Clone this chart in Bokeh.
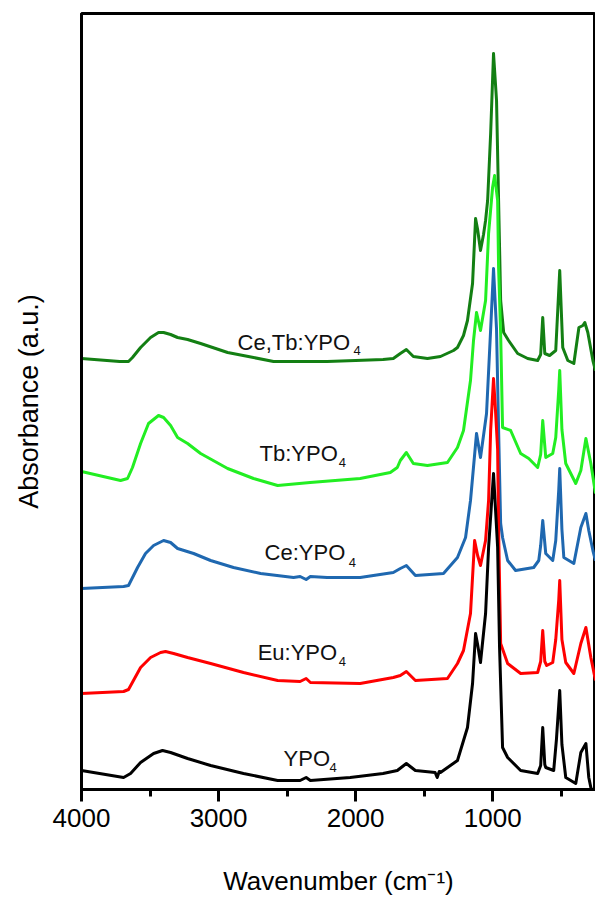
from bokeh.plotting import figure
from bokeh.models import Range1d, SingleIntervalTicker, FixedTicker, ColumnDataSource
from bokeh.embed import file_html
from bokeh.resources import INLINE
from bokeh.core.properties import value

# ---------------- data (wavenumber in cm-1, absorbance in a.u., stacked) ----------------
cetb_wn = [4000, 3722, 3657, 3628, 3569, 3496, 3438, 3401, 3350, 3299, 3226, 3131, 2934, 2745, 2599,
           2400, 2208, 2000, 1800, 1725, 1674, 1630, 1579, 1476, 1381, 1286, 1257, 1213, 1184, 1147,
           1125, 1110, 1089, 1067, 1052, 1037, 1015, 994, 972, 957, 942, 920, 884, 818, 745,
           672, 650, 635, 620, 585, 540, 511, 489, 452, 408, 371, 342, 328, 306, 269, 250]
cetb_ab = [431, 428, 428, 432, 442, 452, 457, 457, 455, 452, 450, 446, 437, 432, 428,
           428, 428, 429, 430, 431, 436, 440, 433, 431, 433, 439, 442, 454, 469, 506,
           571, 560, 539, 555, 569, 589, 656, 736, 689, 589, 489, 457, 449, 436, 431,
           429, 435, 472, 436, 434, 439, 519, 442, 429, 426, 462, 464, 467, 457, 429, 419]

tb_wn = [4000, 3715, 3664, 3628, 3569, 3511, 3438, 3401, 3350, 3299, 3226, 3131, 2934, 2745, 2569,
         2332, 1967, 1747, 1696, 1674, 1630, 1579, 1476, 1330, 1257, 1213, 1162, 1140, 1118, 1089,
         1052, 1030, 1001, 986, 964, 957, 942, 928, 869, 796, 737, 672, 650, 635, 613,
         562, 540, 518, 511, 495, 467, 394, 357, 320, 284, 250]
tb_ab = [318, 309, 311, 322, 346, 366, 374, 372, 364, 352, 346, 336, 321, 311, 304,
         307, 311, 317, 322, 329, 337, 326, 324, 327, 342, 359, 409, 449, 477, 459,
         489, 556, 602, 614, 589, 522, 456, 362, 359, 336, 331, 322, 335, 369, 332,
         336, 352, 400, 419, 360, 326, 306, 319, 351, 326, 296]

ce_wn = [4000, 3693, 3657, 3591, 3533, 3474, 3401, 3350, 3299, 3182, 3058, 2891, 2693, 2453, 2405,
         2361, 2330, 2208, 1967, 1725, 1674, 1630, 1564, 1359, 1257, 1198, 1162, 1118, 1089, 1045,
         1015, 994, 972, 957, 942, 928, 891, 833, 701, 664, 650, 635, 613, 562, 540,
         518, 511, 495, 481, 408, 357, 320, 299, 269, 250]
ce_ab = [201, 203, 204, 222, 236, 244, 249, 247, 241, 236, 229, 222, 216, 212, 213,
         210, 213, 212, 212, 217, 221, 224, 214, 216, 232, 252, 289, 356, 332, 376,
         460, 521, 460, 360, 266, 252, 229, 219, 222, 229, 244, 269, 236, 229, 249,
         300, 321, 260, 232, 226, 262, 276, 259, 239, 229]

eu_wn = [4000, 3693, 3657, 3569, 3496, 3423, 3387, 3328, 3226, 3058, 2818, 2569, 2405, 2361, 2330,
         1967, 1725, 1674, 1630, 1564, 1330, 1257, 1213, 1162, 1132, 1110, 1089, 1052, 1030, 1015,
         994, 980, 964, 957, 942, 891, 796, 672, 650, 635, 620, 606, 562, 540, 518,
         511, 495, 467, 408, 357, 320, 284, 250]
eu_ab = [96, 98, 100, 122, 132, 137, 138, 136, 132, 126, 117, 109, 108, 111, 107,
         106, 112, 114, 118, 109, 111, 126, 139, 176, 249, 234, 224, 249, 289, 359,
         411, 380, 340, 260, 146, 126, 116, 117, 128, 159, 128, 124, 127, 150, 190,
         209, 150, 127, 116, 146, 162, 132, 109]

ypo_wn = [4000, 3693, 3642, 3569, 3474, 3409, 3350, 3226, 3058, 2818, 2569, 2405, 2361, 2330, 2040,
          1800, 1696, 1630, 1564, 1420, 1405, 1390, 1381, 1257, 1184, 1147, 1125, 1110, 1089, 1052,
          1030, 994, 964, 950, 928, 891, 869, 796, 672, 650, 635, 620, 613, 555, 535,
          511, 495, 467, 394, 357, 320, 299, 284, 250]
ypo_ab = [19, 12, 16, 27, 36, 39, 37, 31, 24, 16, 9, 9, 12, 9, 12,
          16, 19, 26, 19, 17, 12, 18, 17, 29, 62, 106, 156, 145, 127, 176,
          242, 316, 242, 142, 42, 32, 29, 19, 16, 24, 62, 25, 22, 19, 50,
          99, 45, 12, 6, 37, 46, 12, 2, -10]

names = ["Ce,Tb:YPO", "Tb:YPO", "Ce:YPO", "Eu:YPO", "YPO"]
subscript = "4"
colors = ["#137f13", "#22ee22", "#1f68b0", "#ff0000", "#000000"]
tick_labels = ["4000", "3000", "2000", "1000"]

# label anchors (data coordinates)
lab_x = [2861, 2701, 2664, 2715, 2526]
lab_y = [447, 336, 237, 137, 31]
sub_x = [2015, 2124, 2051, 2124, 2190]
sub_y = [439, 327, 227, 128, 22]

FONT = "Liberation Sans"

p = figure(width=595, height=899, output_backend="svg", toolbar_location=None,
           x_range=Range1d(4000, 250), y_range=Range1d(0, 776),
           min_border_left=81, min_border_right=0, min_border_top=13, min_border_bottom=110)
p.grid.visible = False
p.background_fill_color = "white"
p.border_fill_color = "white"
p.outline_line_color = "black"
p.outline_line_width = 3

series = [(cetb_wn, cetb_ab), (tb_wn, tb_ab), (ce_wn, ce_ab), (eu_wn, eu_ab), (ypo_wn, ypo_ab)]
for (wn, ab), c in zip(series, colors):
    p.line(wn, ab, line_color=c, line_width=3, line_join="round")

src = ColumnDataSource(dict(x=lab_x, y=lab_y, t=names))
p.text(x="x", y="y", text="t", source=src, text_font=value(FONT), text_font_size=value("22px"),
       text_color="#111111", text_align="left", text_baseline="alphabetic")
src2 = ColumnDataSource(dict(x=sub_x, y=sub_y, t=[subscript] * len(sub_x)))
p.text(x="x", y="y", text="t", source=src2, text_font=value(FONT), text_font_size=value("13px"),
       text_color="#111111", text_align="left", text_baseline="alphabetic")

# x axis
xa = p.xaxis[0]
xa.ticker = SingleIntervalTicker(interval=1000, num_minor_ticks=2)
xa.major_label_overrides = {int(t): t for t in tick_labels}
xa.axis_line_width = 3
xa.major_tick_line_width = 3
xa.minor_tick_line_width = 3
xa.major_tick_out = 12
xa.major_tick_in = 0
xa.minor_tick_out = 7
xa.minor_tick_in = 0
xa.major_label_text_font = FONT
xa.major_label_text_font_size = "26px"
xa.major_label_text_color = "black"
xa.major_label_standoff = 7
xa.axis_label = "Wavenumber (cm\u207b\u00b9)"
xa.axis_label_text_font = FONT
xa.axis_label_text_font_size = "26px"
xa.axis_label_text_font_style = "normal"
xa.axis_label_text_color = "black"
xa.axis_label_standoff = 36

# y axis
ya = p.yaxis[0]
ya.ticker = FixedTicker(ticks=[])
ya.axis_line_width = 3
ya.axis_label = "Absorbance (a.u.)"
ya.axis_label_text_font = FONT
ya.axis_label_text_font_size = "27px"
ya.axis_label_text_font_style = "normal"
ya.axis_label_text_color = "black"
ya.axis_label_standoff = 38

open("out.html", "w").write(file_html(p, INLINE))
